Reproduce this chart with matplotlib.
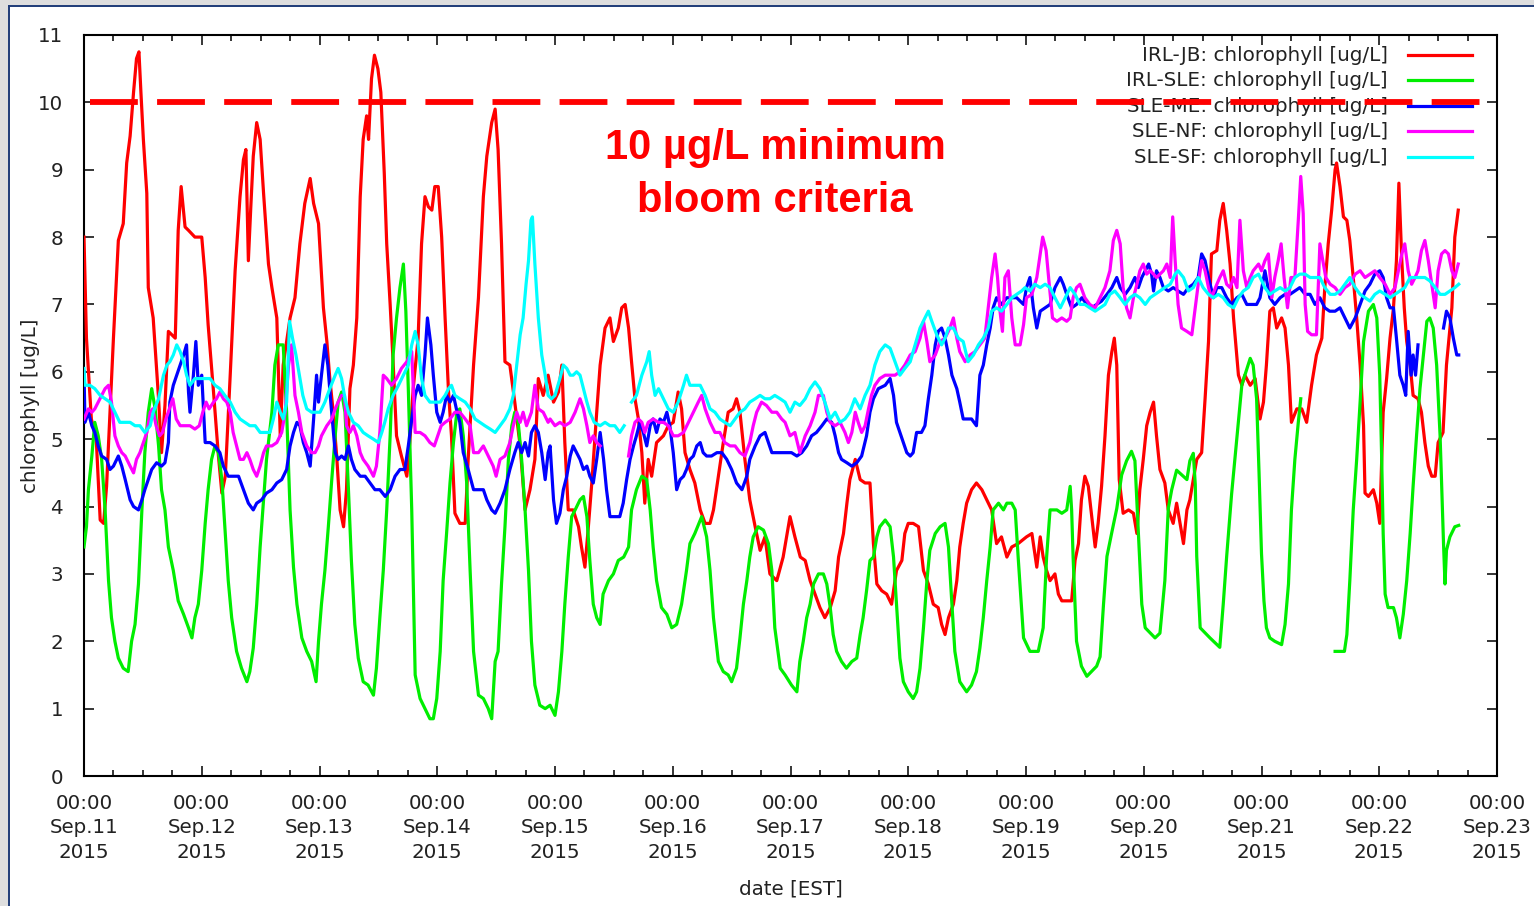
import numpy as np
import matplotlib
matplotlib.use('Agg')
import matplotlib.pyplot as plt
import matplotlib.dates as mdates
from matplotlib.patches import Rectangle
from matplotlib.lines import Line2D

nan = float('nan')

# (hours after 2015-09-11 00:00 EST, chlorophyll ug/L)
irl_jb = [(0, 8.0), (0.5, 6.5), (1.5, 5.3), (2.5, 5.0), (3.3, 3.8), (4.0, 3.75), (4.6, 4.3), (6.0, 6.5), (7.0, 7.95), (8.0, 8.2),
          (8.7, 9.1), (9.4, 9.5), (10.1, 10.15), (10.7, 10.65), (11.2, 10.75), (11.6, 10.15), (12.1, 9.45), (12.8, 8.65), (13.1, 7.25),
          (14.1, 6.8), (15.2, 5.6), (15.8, 4.8), (16.5, 5.5), (17.2, 6.6), (18.6, 6.5), (19.2, 8.1), (19.8, 8.75), (20.6, 8.15), (21.3, 8.1),
          (22.6, 8.0), (24.0, 8.0), (24.7, 7.4), (25.3, 6.7), (26.4, 5.7), (27.4, 4.75), (28.1, 4.2), (28.8, 4.45), (29.8, 5.95), (30.8, 7.5),
          (31.8, 8.6), (32.5, 9.15), (33.0, 9.3), (33.5, 7.65), (34.0, 8.45), (34.5, 9.2), (35.2, 9.7), (35.9, 9.45), (36.6, 8.65), (37.6, 7.6),
          (38.3, 7.25), (39.3, 6.8), (40.0, 5.05), (40.6, 6.1), (42.0, 6.8), (43.0, 7.1), (44.0, 7.9), (45.0, 8.5), (46.1, 8.87), (46.8, 8.5),
          (47.8, 8.2), (48.8, 6.95), (49.5, 6.45), (50.1, 5.9), (50.8, 5.4), (51.5, 4.75), (52.2, 3.95), (52.9, 3.7), (53.5, 4.25), (54.2, 5.75),
          (54.9, 6.1), (55.6, 6.8), (56.3, 8.6), (56.9, 9.45), (57.6, 9.8), (58.0, 9.45), (58.6, 10.35), (59.2, 10.7), (59.9, 10.5), (60.5, 10.15),
          (61.2, 8.95), (61.7, 7.9), (62.4, 7.0), (63.0, 6.15), (63.7, 5.05), (64.7, 4.75), (65.8, 4.45), (66.4, 4.95), (67.1, 5.75), (68.1, 6.5),
          (68.8, 7.9), (69.5, 8.6), (70.2, 8.45), (70.9, 8.4), (71.5, 8.75), (72.2, 8.75), (72.9, 8.0), (73.6, 6.8), (74.3, 5.7), (74.9, 5.05),
          (75.6, 3.9), (76.6, 3.75), (77.7, 3.75), (78.3, 4.7), (79.4, 6.1), (80.4, 7.1), (81.4, 8.6), (82.1, 9.2), (83.1, 9.7), (83.8, 9.9),
          (84.4, 9.3), (85.1, 7.9), (85.8, 6.15), (86.8, 6.1), (87.8, 5.55), (88.9, 4.9), (89.9, 3.95), (90.9, 4.25), (91.9, 4.7), (92.6, 5.9),
          (93.6, 5.65), (94.6, 5.95), (95.7, 5.55), (96.7, 5.7), (97.4, 6.1), (98.0, 4.95), (98.7, 3.95), (99.7, 3.95), (100.8, 3.7), (101.4, 3.4),
          (102.1, 3.1), (102.8, 3.7), (103.5, 4.35), (104.5, 5.4), (105.2, 6.1), (106.2, 6.65), (107.2, 6.8), (107.9, 6.45), (108.9, 6.65),
          (109.6, 6.95), (110.3, 7.0), (111.0, 6.65), (111.6, 6.15), (112.3, 5.6), (113.0, 5.3), (113.7, 4.8), (114.3, 4.05), (115.0, 4.7),
          (115.7, 4.45), (116.7, 4.95), (118.1, 5.05), (119.1, 5.2), (120.1, 5.25), (121.1, 5.7), (121.8, 5.45), (122.5, 4.8), (123.5, 4.55),
          (124.5, 4.35), (125.6, 3.95), (126.6, 3.75), (127.6, 3.75), (128.3, 3.95), (129.3, 4.45), (130.3, 4.95), (131.3, 5.4), (132.3, 5.45),
          (133.0, 5.6), (133.7, 5.4), (134.7, 4.7), (135.7, 4.1), (136.8, 3.7), (137.8, 3.35), (138.8, 3.55), (139.8, 3.0), (141.2, 2.9),
          (142.5, 3.25), (143.9, 3.85), (144.9, 3.55), (146.0, 3.25), (147.0, 3.2), (148.0, 2.9), (149.0, 2.7), (150.0, 2.5), (151.0, 2.35),
          (152.1, 2.5), (153.1, 2.75), (153.8, 3.25), (154.8, 3.6), (155.5, 4.05), (156.1, 4.4), (157.2, 4.7), (158.2, 4.4), (159.2, 4.35),
          (160.2, 4.35), (160.9, 3.45), (161.6, 2.85), (162.6, 2.75), (163.6, 2.7), (164.6, 2.55), (165.6, 3.05), (166.7, 3.2), (167.3, 3.6),
          (168.0, 3.75), (169.0, 3.75), (170.1, 3.7), (171.1, 3.05), (172.1, 2.85), (173.1, 2.55), (174.1, 2.5), (174.8, 2.25), (175.5, 2.1),
          (176.2, 2.35), (177.2, 2.55), (177.9, 2.9), (178.5, 3.4), (179.2, 3.75), (179.9, 4.05), (180.9, 4.25), (181.9, 4.35), (183.0, 4.25),
          (184.0, 4.1), (185.0, 3.95), (186.0, 3.45), (187.0, 3.55), (188.1, 3.25), (189.1, 3.4), (190.4, 3.45), (192.1, 3.55), (193.2, 3.6),
          (194.2, 3.1), (194.9, 3.55), (195.5, 3.25), (196.2, 3.05), (196.9, 2.9), (197.9, 3.0), (198.6, 2.7), (199.3, 2.6), (200.3, 2.6),
          (201.3, 2.6), (202.0, 3.2), (202.7, 3.45), (203.3, 4.1), (204.0, 4.45), (204.7, 4.3), (205.4, 3.85), (206.1, 3.4), (206.7, 3.75),
          (207.4, 4.3), (208.1, 5.05), (208.8, 5.95), (209.5, 6.3), (210.0, 6.5), (210.5, 6.1), (211.0, 4.4), (211.8, 3.9), (212.9, 3.95),
          (213.9, 3.9), (214.6, 3.6), (215.2, 4.25), (215.9, 4.7), (216.6, 5.2), (217.3, 5.4), (218.0, 5.55), (218.6, 5.05), (219.3, 4.55),
          (220.3, 4.35), (221.0, 3.95), (222.0, 3.75), (222.7, 4.05), (223.4, 3.75), (224.1, 3.45), (224.8, 3.95), (225.4, 4.1), (226.1, 4.4),
          (226.8, 4.7), (227.8, 4.8), (228.5, 5.6), (229.2, 6.45), (229.8, 7.75), (230.9, 7.8), (231.5, 8.25), (232.2, 8.5), (232.9, 8.1),
          (233.6, 7.6), (234.3, 6.8), (235.3, 5.95), (236.0, 5.8), (236.6, 5.95), (237.7, 5.8), (238.7, 5.9), (239.7, 5.3), (240.4, 5.55),
          (241.0, 6.1), (241.7, 6.9), (242.4, 6.95), (243.1, 6.65), (244.1, 6.8), (244.8, 6.65), (245.5, 6.1), (246.1, 5.25), (247.2, 5.45),
          (248.2, 5.45), (249.2, 5.25), (250.2, 5.8), (251.2, 6.25), (252.3, 6.5), (252.9, 7.25), (253.6, 7.9), (254.3, 8.4), (255.0, 9.0),
          (255.3, 9.1), (256.0, 8.75), (256.7, 8.3), (257.4, 8.25), (258.0, 7.95), (258.7, 7.4), (259.4, 6.8), (260.1, 6.1), (260.8, 5.2),
          (261.1, 4.2), (261.8, 4.15), (262.8, 4.25), (263.5, 4.05), (264.1, 3.75), (264.8, 5.4), (265.5, 5.9), (266.2, 6.5), (266.9, 6.95),
          (267.5, 7.65), (268.0, 8.8), (268.6, 7.65), (269.1, 6.95), (269.6, 6.45), (270.3, 6.1), (270.9, 5.65), (271.9, 5.6), (272.6, 5.4),
          (273.3, 4.95), (274.0, 4.6), (274.7, 4.45), (275.4, 4.45), (276.0, 4.95), (277.0, 5.1), (277.7, 6.1), (278.8, 6.95), (279.4, 8.0),
          (280.1, 8.4)]

irl_sle = [(0, 3.4), (0.5, 3.7), (0.9, 4.25), (1.6, 4.75), (2.2, 5.25), (2.9, 5.05), (3.6, 4.7), (4.3, 3.95), (5.0, 2.9), (5.6, 2.35),
           (6.3, 2.0), (7.0, 1.75), (8.0, 1.6), (9.0, 1.55), (9.7, 2.0), (10.4, 2.25), (11.1, 2.85), (11.8, 3.95), (12.4, 4.8), (13.1, 5.4),
           (13.8, 5.75), (14.5, 5.45), (15.2, 4.9), (15.8, 4.25), (16.5, 3.95), (17.2, 3.4), (18.2, 3.05), (19.2, 2.6), (20.3, 2.4), (21.3, 2.2),
           (22.0, 2.05), (22.6, 2.35), (23.3, 2.55), (24.0, 3.05), (24.7, 3.75), (25.3, 4.25), (26.0, 4.7), (26.7, 4.9), (27.4, 4.8), (28.1, 4.4),
           (28.7, 3.7), (29.4, 2.9), (30.1, 2.35), (31.1, 1.85), (32.1, 1.6), (33.2, 1.4), (33.8, 1.55), (34.5, 1.9), (35.2, 2.55), (35.9, 3.4),
           (36.6, 4.1), (37.2, 4.7), (38.3, 5.4), (38.9, 6.1), (39.6, 6.4), (40.6, 6.4), (41.3, 5.4), (42.0, 3.95), (42.7, 3.1), (43.4, 2.55),
           (44.4, 2.05), (45.4, 1.85), (46.4, 1.7), (47.3, 1.4), (47.8, 2.0), (48.4, 2.55), (49.1, 3.05), (49.8, 3.7), (50.5, 4.4), (51.2, 5.05),
           (51.8, 5.55), (52.5, 5.7), (53.2, 5.4), (53.9, 4.25), (54.5, 3.2), (55.2, 2.25), (55.9, 1.75), (56.9, 1.4), (57.9, 1.35), (59.0, 1.2),
           (59.6, 1.6), (60.3, 2.35), (61.0, 3.05), (61.7, 3.95), (62.4, 5.05), (63.0, 6.25), (63.7, 6.8), (64.4, 7.25), (65.1, 7.6), (65.6, 6.9),
           (66.1, 5.75), (66.8, 3.95), (67.5, 1.5), (68.5, 1.15), (69.5, 1.0), (70.5, 0.85), (71.2, 0.85), (71.9, 1.15), (72.6, 1.85), (73.2, 2.9),
           (73.9, 3.6), (74.6, 4.35), (75.3, 4.95), (76.0, 5.4), (76.6, 5.45), (77.3, 5.05), (78.0, 4.35), (78.7, 3.05), (79.4, 1.85), (80.4, 1.2),
           (81.4, 1.15), (82.4, 1.0), (83.1, 0.85), (83.8, 1.7), (84.4, 1.85), (85.1, 2.85), (85.8, 3.7), (86.5, 4.7), (87.2, 5.2), (87.8, 5.4),
           (88.5, 5.25), (89.2, 4.7), (89.9, 3.95), (90.6, 3.05), (91.2, 2.0), (91.9, 1.35), (92.9, 1.05), (94.0, 1.0), (95.0, 1.05), (96.0, 0.9),
           (96.7, 1.25), (97.4, 1.85), (98.0, 2.55), (98.7, 3.25), (99.4, 3.85), (100.1, 3.95), (101.1, 4.1), (101.8, 4.15), (102.5, 3.85),
           (103.1, 3.2), (103.8, 2.55), (104.5, 2.35), (105.2, 2.25), (105.8, 2.7), (106.9, 2.9), (107.9, 3.0), (108.9, 3.2), (110.0, 3.25),
           (111.0, 3.4), (111.6, 3.95), (112.6, 4.25), (113.7, 4.45), (114.7, 4.4), (115.4, 3.95), (116.0, 3.4), (116.7, 2.9), (117.7, 2.5),
           (118.8, 2.4), (119.8, 2.2), (120.8, 2.25), (121.8, 2.55), (122.8, 3.05), (123.5, 3.45), (124.5, 3.6), (125.9, 3.85), (126.9, 3.55),
           (127.6, 3.05), (128.3, 2.35), (129.3, 1.7), (130.3, 1.55), (131.3, 1.5), (132.0, 1.4), (133.0, 1.6), (133.7, 2.05), (134.4, 2.55),
           (135.1, 2.9), (135.7, 3.25), (136.4, 3.55), (137.4, 3.7), (138.5, 3.65), (139.5, 3.45), (140.2, 3.05), (140.8, 2.2), (141.9, 1.6),
           (142.9, 1.5), (144.2, 1.35), (145.3, 1.25), (145.9, 1.7), (146.6, 2.0), (147.3, 2.35), (148.0, 2.55), (148.7, 2.85), (149.7, 3.0),
           (150.7, 3.0), (151.4, 2.85), (152.1, 2.5), (152.7, 2.1), (153.4, 1.85), (154.4, 1.7), (155.4, 1.6), (156.5, 1.7), (157.5, 1.75),
           (158.2, 2.1), (158.8, 2.35), (159.5, 2.75), (160.2, 3.2), (160.9, 3.25), (161.6, 3.55), (162.2, 3.7), (163.3, 3.8), (164.3, 3.7),
           (165.0, 3.25), (165.6, 2.55), (166.3, 1.75), (167.0, 1.4), (168.0, 1.25), (169.0, 1.15), (169.7, 1.25), (170.4, 1.6), (171.1, 2.2),
           (171.8, 2.9), (172.4, 3.35), (173.5, 3.6), (174.5, 3.7), (175.5, 3.75), (176.2, 3.4), (176.9, 2.55), (177.5, 1.85), (178.5, 1.4),
           (179.9, 1.25), (180.9, 1.35), (181.9, 1.55), (182.6, 1.9), (183.3, 2.35), (184.0, 2.9), (184.7, 3.4), (185.3, 3.95), (186.4, 4.05),
           (187.4, 3.95), (188.1, 4.05), (189.1, 4.05), (189.8, 3.95), (190.4, 3.25), (191.5, 2.05), (192.8, 1.85), (194.5, 1.85), (195.5, 2.2),
           (196.2, 3.25), (196.9, 3.95), (198.3, 3.95), (199.3, 3.9), (200.3, 3.95), (201.0, 4.3), (201.3, 3.95), (201.6, 3.25), (202.3, 2.0),
           (203.3, 1.63), (204.4, 1.48), (206.4, 1.63), (207.1, 1.77), (207.8, 2.55), (208.5, 3.26), (209.5, 3.62), (210.5, 3.97), (211.5, 4.47),
           (212.5, 4.68), (213.5, 4.82), (214.2, 4.68), (214.9, 3.62), (215.6, 2.55), (216.3, 2.2), (218.3, 2.05), (219.3, 2.12), (220.3, 2.9),
           (221.0, 3.97), (221.7, 4.25), (222.7, 4.54), (224.8, 4.4), (225.4, 4.68), (226.1, 4.79), (226.5, 4.33), (226.8, 3.26), (227.5, 2.2),
           (229.5, 2.05), (231.5, 1.91), (232.2, 2.55), (232.9, 3.26), (233.9, 4.18), (235.0, 5.04), (236.0, 5.81), (237.7, 6.2), (238.3, 6.1),
           (239.0, 5.6), (239.5, 4.5), (240.0, 3.3), (240.5, 2.6), (241.0, 2.2), (241.7, 2.05), (242.7, 2.0), (244.1, 1.95), (244.8, 2.25),
           (245.5, 2.85), (246.1, 3.95), (246.8, 4.7), (247.5, 5.25), (248.0, 5.6), (251.0, nan), (255.0, 1.85), (256.9, 1.85), (257.4, 2.1),
           (258.0, 2.9), (258.7, 3.95), (259.4, 4.7), (260.1, 5.55), (260.8, 6.45), (261.8, 6.9), (262.8, 7.0), (263.5, 6.8), (264.1, 5.95),
           (264.5, 4.7), (264.8, 3.6), (265.2, 2.7), (265.8, 2.5), (266.9, 2.5), (267.5, 2.35), (268.2, 2.05), (268.9, 2.4), (269.6, 2.9),
           (270.3, 3.6), (270.9, 4.3), (271.6, 5.05), (272.3, 5.75), (273.0, 6.25), (273.7, 6.75), (274.3, 6.8), (275.0, 6.65), (275.7, 6.1),
           (276.4, 5.05), (277.1, 3.45), (277.4, 2.85), (277.7, 3.35), (278.4, 3.55), (279.4, 3.7), (280.2, 3.72)]

sle_me = [(0, 6.0), (0.2, 5.25), (0.9, 5.4), (1.6, 5.2), (2.2, 5.1), (2.9, 4.9), (3.6, 4.75), (4.6, 4.7), (5.3, 4.55), (6.0, 4.6),
          (7.0, 4.75), (7.7, 4.6), (8.4, 4.4), (9.4, 4.1), (10.1, 4.0), (11.1, 3.95), (11.8, 4.1), (12.4, 4.25), (13.1, 4.4), (13.8, 4.55),
          (14.8, 4.65), (15.8, 4.6), (16.5, 4.65), (17.2, 4.95), (17.5, 5.55), (18.2, 5.8), (18.9, 5.95), (19.6, 6.1), (20.3, 6.25), (20.9, 6.4),
          (21.3, 5.7), (21.6, 5.4), (22.3, 5.95), (22.8, 6.45), (23.3, 5.8), (24.0, 5.95), (24.7, 4.95), (25.7, 4.95), (26.7, 4.9), (27.7, 4.8),
          (28.4, 4.6), (29.4, 4.45), (30.4, 4.45), (31.5, 4.45), (32.5, 4.25), (33.5, 4.05), (34.5, 3.95), (35.2, 4.05), (36.2, 4.1), (37.2, 4.2),
          (38.3, 4.25), (39.3, 4.35), (40.3, 4.4), (41.3, 4.55), (42.0, 4.9), (42.7, 5.1), (43.4, 5.25), (44.0, 5.2), (44.7, 4.95), (45.4, 4.8),
          (46.1, 4.6), (46.8, 5.3), (47.4, 5.95), (47.8, 5.55), (48.4, 5.95), (49.1, 6.4), (49.7, 6.1), (50.3, 5.55), (51.2, 4.8), (51.8, 4.7),
          (52.5, 4.75), (53.2, 4.7), (53.9, 4.9), (54.5, 4.7), (55.2, 4.55), (56.3, 4.45), (57.3, 4.45), (58.3, 4.35), (59.3, 4.25), (60.3, 4.25),
          (61.4, 4.15), (62.4, 4.25), (63.4, 4.45), (64.4, 4.55), (65.4, 4.55), (66.1, 4.9), (66.8, 5.3), (67.5, 5.65), (68.1, 5.8), (68.8, 5.65),
          (69.5, 6.25), (70.0, 6.8), (70.7, 6.4), (71.2, 5.95), (71.9, 5.4), (72.6, 5.25), (73.2, 5.4), (73.9, 5.65), (74.6, 5.55), (75.3, 5.65),
          (75.9, 5.45), (76.6, 5.25), (77.3, 4.8), (78.3, 4.55), (79.4, 4.25), (80.4, 4.25), (81.4, 4.25), (82.1, 4.1), (83.1, 3.95), (83.8, 3.9),
          (84.8, 4.05), (85.8, 4.25), (86.8, 4.55), (87.8, 4.8), (88.5, 4.95), (89.2, 4.8), (89.9, 4.95), (90.6, 4.75), (91.2, 5.1), (91.9, 5.2),
          (92.6, 5.1), (93.3, 4.8), (94.0, 4.4), (94.6, 4.8), (95.0, 4.9), (95.7, 4.1), (96.3, 3.75), (97.0, 3.9), (97.7, 4.25), (98.4, 4.45),
          (99.1, 4.75), (99.7, 4.9), (100.4, 4.8), (101.1, 4.7), (101.8, 4.55), (102.5, 4.6), (103.1, 4.45), (103.8, 4.35), (104.5, 4.7),
          (105.2, 5.1), (105.9, 4.7), (106.5, 4.25), (107.2, 3.85), (108.2, 3.85), (109.2, 3.85), (109.9, 4.05), (110.6, 4.4), (111.3, 4.7),
          (112.0, 4.9), (112.6, 5.05), (113.3, 5.25), (114.0, 5.1), (114.7, 4.9), (115.4, 5.2), (116.0, 5.3), (116.7, 5.1), (117.4, 5.3),
          (118.1, 5.25), (118.8, 5.4), (119.4, 5.2), (120.1, 4.8), (120.8, 4.25), (121.5, 4.4), (122.2, 4.45), (122.8, 4.55), (123.5, 4.7),
          (124.2, 4.75), (124.9, 4.9), (125.6, 4.95), (126.2, 4.8), (126.9, 4.75), (127.9, 4.75), (129.0, 4.8), (130.0, 4.8), (131.0, 4.7),
          (132.0, 4.55), (133.0, 4.35), (134.1, 4.25), (135.1, 4.45), (135.7, 4.7), (136.8, 4.9), (137.8, 5.05), (138.8, 5.1), (139.5, 4.95),
          (140.2, 4.8), (141.2, 4.8), (142.5, 4.8), (144.2, 4.8), (145.3, 4.75), (146.3, 4.8), (147.3, 4.9), (148.3, 5.05), (149.3, 5.1),
          (150.4, 5.2), (151.4, 5.3), (152.4, 5.25), (153.1, 5.05), (153.8, 4.8), (154.4, 4.7), (155.5, 4.65), (156.5, 4.6), (157.5, 4.65),
          (158.5, 4.75), (159.5, 5.05), (160.2, 5.4), (160.9, 5.6), (161.9, 5.75), (163.3, 5.8), (164.3, 5.9), (165.0, 5.65), (165.6, 5.25),
          (166.3, 5.1), (167.0, 4.95), (167.7, 4.8), (168.4, 4.75), (169.0, 4.8), (169.7, 5.1), (170.7, 5.1), (171.4, 5.2), (172.1, 5.6),
          (172.8, 5.95), (173.5, 6.4), (174.1, 6.6), (174.8, 6.65), (175.5, 6.5), (176.2, 6.25), (176.9, 5.95), (177.9, 5.75), (178.5, 5.55),
          (179.2, 5.3), (179.9, 5.3), (180.9, 5.3), (181.9, 5.2), (182.6, 5.95), (183.3, 6.1), (184.0, 6.4), (184.7, 6.65), (185.3, 6.95),
          (186.0, 7.1), (187.0, 7.0), (188.1, 7.1), (189.1, 7.1), (190.1, 7.1), (191.5, 7.0), (192.1, 7.25), (192.8, 7.4), (193.5, 6.95),
          (194.2, 6.65), (194.9, 6.9), (195.9, 6.95), (196.9, 7.0), (197.9, 7.25), (199.0, 7.4), (199.6, 7.3), (200.3, 7.15), (201.3, 6.95),
          (202.3, 7.0), (203.4, 7.1), (204.4, 7.0), (205.4, 6.95), (206.4, 7.0), (207.4, 7.05), (208.5, 7.15), (209.5, 7.25), (210.5, 7.4),
          (211.2, 7.25), (212.2, 7.15), (213.2, 7.25), (214.2, 7.4), (214.9, 7.25), (215.6, 7.4), (216.3, 7.5), (217.0, 7.6), (217.6, 7.45),
          (218.0, 7.2), (218.6, 7.5), (219.3, 7.4), (220.0, 7.25), (221.0, 7.2), (222.0, 7.25), (223.0, 7.2), (224.1, 7.15), (225.1, 7.25),
          (226.1, 7.3), (227.1, 7.4), (227.8, 7.75), (228.5, 7.65), (229.2, 7.4), (230.2, 7.1), (230.9, 7.25), (231.9, 7.25), (232.9, 7.1),
          (233.9, 7.0), (235.0, 7.1), (236.0, 7.15), (237.0, 7.0), (238.0, 7.0), (239.0, 7.0), (239.7, 7.1), (240.7, 7.5), (241.7, 7.1),
          (242.7, 7.0), (243.8, 7.1), (244.8, 7.15), (245.8, 7.15), (246.8, 7.2), (247.8, 7.25), (248.9, 7.15), (249.9, 7.15), (250.9, 7.0),
          (251.9, 7.1), (252.9, 6.95), (253.9, 6.9), (255.0, 6.9), (256.0, 6.95), (257.0, 6.8), (258.0, 6.65), (259.1, 6.8), (260.1, 7.0),
          (261.1, 7.2), (262.1, 7.3), (263.1, 7.45), (264.1, 7.5), (264.8, 7.4), (265.5, 7.1), (266.2, 6.95), (266.9, 6.95), (267.5, 6.5),
          (268.2, 5.95), (268.9, 5.8), (269.4, 5.65), (269.9, 6.6), (270.5, 5.95), (270.9, 6.25), (271.4, 5.95), (271.9, 6.4), (274.5, nan),
          (277.1, 6.65), (277.7, 6.9), (278.4, 6.8), (279.1, 6.5), (279.8, 6.25), (280.2, 6.25)]

sle_nf = [(0, 5.3), (0.9, 5.45), (1.6, 5.4), (2.2, 5.45), (2.9, 5.55), (3.6, 5.65), (4.3, 5.75), (5.0, 5.8), (5.6, 5.55), (6.3, 5.05),
          (7.0, 4.9), (7.7, 4.8), (8.4, 4.75), (9.4, 4.6), (10.1, 4.5), (10.7, 4.7), (11.4, 4.8), (12.1, 4.95), (12.8, 5.1), (13.5, 5.4),
          (14.0, 5.45), (14.7, 5.2), (15.4, 5.05), (16.0, 5.1), (16.7, 5.3), (17.4, 5.45), (18.1, 5.6), (18.8, 5.3), (19.6, 5.2), (20.6, 5.2),
          (21.6, 5.2), (22.6, 5.15), (23.5, 5.2), (24.2, 5.4), (24.9, 5.55), (25.5, 5.45), (26.4, 5.55), (27.0, 5.6), (27.7, 5.7), (28.4, 5.6),
          (29.1, 5.55), (29.8, 5.4), (30.4, 5.1), (31.1, 4.9), (31.8, 4.7), (32.5, 4.7), (33.2, 4.8), (33.8, 4.7), (34.5, 4.55), (35.2, 4.45),
          (35.9, 4.6), (36.6, 4.8), (37.2, 4.9), (38.3, 4.9), (39.3, 4.95), (40.3, 5.1), (41.0, 5.4), (41.7, 6.1), (42.3, 6.4), (43.0, 5.65),
          (43.7, 5.4), (44.4, 5.1), (45.4, 4.9), (46.4, 4.8), (47.1, 4.8), (47.8, 4.9), (48.4, 5.05), (49.5, 5.2), (50.5, 5.3), (51.2, 5.45),
          (51.8, 5.55), (52.5, 5.65), (53.1, 5.65), (53.5, 5.2), (54.2, 5.1), (54.9, 5.2), (55.6, 5.05), (56.3, 4.8), (56.9, 4.7), (57.9, 4.6),
          (59.0, 4.45), (59.6, 4.6), (60.3, 5.1), (61.0, 5.95), (61.7, 5.9), (62.7, 5.8), (63.7, 5.9), (64.7, 6.05), (65.8, 6.15), (66.8, 6.3),
          (67.5, 5.1), (68.5, 5.1), (69.5, 5.05), (70.5, 4.95), (71.4, 4.9), (72.1, 5.05), (72.8, 5.2), (73.6, 5.25), (74.6, 5.3), (75.6, 5.4),
          (76.6, 5.4), (77.7, 5.3), (78.7, 5.2), (79.4, 4.8), (80.4, 4.8), (81.4, 4.9), (82.4, 4.75), (83.4, 4.6), (84.0, 4.45), (84.8, 4.7),
          (85.8, 4.75), (86.8, 4.95), (87.5, 5.2), (88.2, 5.4), (88.9, 5.25), (89.5, 5.4), (90.2, 5.2), (91.2, 5.4), (91.9, 5.8), (92.6, 5.45),
          (93.6, 5.4), (94.6, 5.25), (95.0, 5.3), (96.0, 5.2), (97.0, 5.25), (98.0, 5.2), (99.1, 5.25), (100.1, 5.4), (101.1, 5.6),
          (101.8, 5.45), (102.5, 5.2), (103.1, 4.95), (103.8, 5.05), (104.5, 4.95), (105.2, 4.9), (108.0, nan), (111.0, 4.75), (111.6, 5.05),
          (112.3, 5.25), (113.0, 5.3), (113.7, 5.25), (114.3, 5.1), (115.0, 5.25), (116.0, 5.3), (117.1, 5.25), (118.1, 5.25), (119.1, 5.2),
          (120.1, 5.05), (121.1, 5.05), (122.2, 5.1), (123.2, 5.25), (124.2, 5.4), (125.2, 5.55), (125.9, 5.65), (126.6, 5.45), (127.6, 5.25),
          (128.6, 5.1), (129.6, 5.1), (130.6, 4.95), (131.7, 4.9), (132.7, 4.9), (133.7, 4.8), (134.7, 4.75), (135.7, 4.95), (136.4, 5.2),
          (137.1, 5.4), (138.1, 5.55), (139.1, 5.5), (140.2, 5.4), (141.2, 5.4), (142.2, 5.3), (142.9, 5.25), (143.9, 5.05), (144.9, 5.1),
          (145.9, 4.8), (147.0, 5.05), (148.0, 5.2), (149.0, 5.4), (149.7, 5.65), (150.7, 5.65), (151.4, 5.4), (152.1, 5.25), (153.1, 5.2),
          (154.1, 5.25), (155.1, 5.1), (155.8, 4.95), (156.5, 5.1), (157.2, 5.4), (157.8, 5.25), (158.5, 5.1), (159.2, 5.2), (159.9, 5.45),
          (160.5, 5.65), (161.2, 5.8), (162.2, 5.9), (163.3, 5.95), (164.3, 5.95), (165.3, 5.95), (166.3, 6.0), (167.3, 6.1), (168.4, 6.25),
          (169.4, 6.3), (170.4, 6.5), (171.1, 6.75), (171.8, 6.45), (172.4, 6.15), (173.5, 6.25), (174.5, 6.45), (175.5, 6.5), (176.5, 6.65),
          (177.2, 6.8), (177.9, 6.5), (178.5, 6.3), (179.6, 6.15), (180.6, 6.25), (181.6, 6.3), (182.6, 6.4), (183.6, 6.5), (184.3, 6.95),
          (185.0, 7.4), (185.7, 7.75), (186.2, 7.4), (186.7, 6.9), (187.2, 6.6), (187.7, 7.4), (188.4, 7.5), (189.1, 6.8), (189.8, 6.4),
          (190.8, 6.4), (191.5, 6.7), (192.1, 7.1), (193.2, 7.15), (194.2, 7.4), (194.9, 7.75), (195.4, 8.0), (196.1, 7.8), (196.8, 7.25),
          (197.4, 6.8), (198.3, 6.75), (199.3, 6.8), (200.3, 6.75), (201.0, 6.8), (201.6, 7.1), (202.3, 7.25), (203.0, 7.3), (204.0, 7.1),
          (205.0, 7.0), (206.1, 6.95), (207.1, 7.1), (208.1, 7.25), (209.1, 7.5), (209.8, 7.95), (210.5, 8.1), (211.2, 7.9), (211.8, 7.25),
          (212.5, 6.95), (213.2, 6.8), (213.9, 7.1), (214.6, 7.3), (215.2, 7.5), (215.9, 7.6), (216.6, 7.45), (217.3, 7.5), (218.0, 7.45),
          (218.6, 7.4), (219.3, 7.45), (220.0, 7.5), (220.7, 7.6), (221.4, 7.4), (221.9, 8.3), (222.4, 7.65), (223.0, 7.0), (223.7, 6.65),
          (224.8, 6.6), (225.8, 6.55), (226.5, 6.95), (227.1, 7.3), (227.8, 7.65), (228.5, 7.5), (229.2, 7.25), (229.8, 7.1), (230.9, 7.3),
          (231.5, 7.4), (232.2, 7.5), (232.9, 7.3), (233.6, 7.25), (234.3, 7.4), (235.0, 7.25), (235.6, 8.25), (236.3, 7.5), (237.0, 7.25),
          (237.7, 7.4), (238.3, 7.5), (239.4, 7.6), (240.0, 7.5), (240.7, 7.65), (241.4, 7.75), (242.1, 7.1), (242.7, 7.4), (243.4, 7.65),
          (244.0, 7.9), (244.6, 7.4), (245.3, 6.95), (246.0, 7.4), (246.8, 7.4), (247.5, 8.25), (248.0, 8.9), (248.5, 8.35), (248.9, 7.0),
          (249.4, 6.6), (250.2, 6.55), (251.2, 6.55), (251.9, 7.9), (252.5, 7.65), (253.1, 7.4), (254.0, 7.3), (255.0, 7.25), (256.0, 7.15),
          (257.0, 7.25), (258.0, 7.3), (259.1, 7.45), (260.1, 7.5), (261.1, 7.4), (262.1, 7.45), (263.1, 7.5), (264.1, 7.4), (265.2, 7.3),
          (266.2, 7.15), (267.2, 7.25), (267.9, 7.5), (268.6, 7.75), (269.2, 7.9), (269.9, 7.5), (270.6, 7.3), (271.3, 7.4), (271.9, 7.5),
          (272.6, 7.8), (273.3, 7.95), (274.0, 7.65), (274.7, 7.3), (275.4, 6.95), (276.0, 7.5), (276.7, 7.75), (277.4, 7.8), (278.1, 7.75),
          (278.8, 7.5), (279.4, 7.4), (280.1, 7.6)]

sle_sf = [(0, 6.05), (0.2, 5.8), (1.2, 5.8), (2.2, 5.75), (3.3, 5.65), (4.3, 5.6), (5.3, 5.55), (6.3, 5.4), (7.3, 5.25), (8.4, 5.25),
          (9.4, 5.25), (10.4, 5.2), (11.4, 5.2), (12.4, 5.1), (13.5, 5.2), (14.1, 5.4), (15.2, 5.6), (16.2, 5.95), (16.9, 6.1), (17.5, 6.15),
          (18.2, 6.25), (18.9, 6.4), (19.6, 6.3), (20.3, 6.15), (20.9, 5.95), (21.6, 5.8), (22.6, 5.9), (23.6, 5.9), (24.7, 5.9), (25.7, 5.9),
          (26.7, 5.8), (27.7, 5.75), (28.7, 5.65), (29.8, 5.55), (30.8, 5.4), (31.8, 5.3), (32.8, 5.25), (33.8, 5.2), (34.9, 5.2), (35.9, 5.1),
          (36.9, 5.1), (37.9, 5.1), (38.6, 5.3), (39.3, 5.55), (40.0, 5.4), (40.6, 5.3), (41.3, 5.55), (41.9, 6.75), (42.5, 6.5), (43.2, 6.25),
          (43.9, 5.95), (44.6, 5.65), (45.4, 5.45), (46.4, 5.4), (47.1, 5.4), (48.1, 5.4), (49.1, 5.55), (50.1, 5.75), (51.2, 5.95), (51.8, 6.05),
          (52.5, 5.9), (53.2, 5.6), (53.9, 5.4), (54.9, 5.25), (55.9, 5.2), (56.9, 5.1), (57.9, 5.05), (59.0, 5.0), (60.0, 4.95), (60.7, 5.1),
          (61.3, 5.25), (62.0, 5.45), (63.0, 5.65), (64.1, 5.8), (65.1, 5.95), (66.1, 6.1), (66.8, 6.4), (67.5, 6.6), (68.1, 6.4), (68.8, 5.9),
          (69.5, 5.65), (70.5, 5.55), (71.5, 5.55), (72.6, 5.55), (73.6, 5.65), (74.3, 5.75), (74.9, 5.8), (75.6, 5.65), (76.6, 5.6),
          (77.7, 5.55), (78.7, 5.45), (79.7, 5.3), (80.7, 5.25), (81.7, 5.2), (82.8, 5.15), (83.8, 5.1), (84.8, 5.2), (85.8, 5.3), (86.8, 5.45),
          (87.5, 5.65), (88.2, 6.1), (88.9, 6.55), (89.5, 6.8), (90.1, 7.3), (90.6, 7.65), (91.1, 8.25), (91.4, 8.3), (91.9, 7.6), (92.6, 6.8),
          (93.3, 6.25), (94.0, 5.95), (94.6, 5.65), (95.3, 5.6), (96.0, 5.65), (97.0, 5.9), (97.7, 6.1), (98.4, 6.05), (99.1, 5.95),
          (99.7, 5.95), (100.4, 6.0), (101.1, 5.95), (101.8, 5.75), (102.5, 5.55), (103.1, 5.4), (104.0, 5.25), (105.2, 5.2), (106.2, 5.25),
          (107.2, 5.2), (108.2, 5.2), (109.2, 5.1), (110.1, 5.2), (110.8, nan), (111.6, 5.55), (112.6, 5.65), (113.7, 5.95), (114.7, 6.15),
          (115.2, 6.3), (115.7, 5.95), (116.4, 5.65), (117.1, 5.75), (118.1, 5.6), (119.1, 5.45), (120.1, 5.4), (121.1, 5.55), (122.2, 5.8),
          (122.8, 5.95), (123.5, 5.8), (124.5, 5.8), (125.6, 5.8), (126.6, 5.65), (127.6, 5.45), (128.6, 5.4), (129.6, 5.3), (130.6, 5.25),
          (131.7, 5.2), (132.7, 5.3), (133.7, 5.4), (134.7, 5.45), (135.7, 5.55), (136.8, 5.6), (137.8, 5.65), (138.8, 5.6), (139.8, 5.6),
          (140.8, 5.65), (141.9, 5.6), (142.9, 5.55), (143.9, 5.4), (144.9, 5.55), (145.9, 5.5), (147.0, 5.6), (148.0, 5.75), (149.0, 5.85),
          (150.0, 5.75), (151.0, 5.55), (152.1, 5.3), (153.1, 5.4), (154.1, 5.25), (155.1, 5.3), (156.1, 5.4), (157.1, 5.6), (158.2, 5.45),
          (159.2, 5.65), (160.2, 5.8), (161.2, 6.1), (162.2, 6.3), (163.3, 6.4), (164.3, 6.35), (165.3, 6.15), (166.3, 5.95), (167.3, 6.05),
          (168.4, 6.15), (169.4, 6.4), (170.4, 6.65), (171.4, 6.8), (172.1, 6.9), (172.8, 6.75), (173.8, 6.55), (174.8, 6.4), (175.5, 6.5),
          (176.2, 6.65), (177.2, 6.65), (178.2, 6.5), (179.2, 6.45), (180.2, 6.15), (181.3, 6.25), (182.3, 6.4), (183.3, 6.5), (184.3, 6.65),
          (185.0, 6.9), (186.0, 6.95), (187.0, 6.9), (188.1, 7.0), (189.1, 7.1), (190.1, 7.15), (191.1, 7.2), (191.8, 7.25), (192.8, 7.2),
          (193.8, 7.3), (194.9, 7.25), (195.9, 7.3), (196.9, 7.25), (197.9, 7.1), (199.0, 6.95), (200.0, 7.1), (201.0, 7.25), (202.0, 7.15),
          (203.0, 7.0), (204.0, 7.0), (205.0, 6.95), (206.1, 6.9), (207.1, 6.95), (208.1, 7.0), (209.1, 7.15), (210.1, 7.2), (211.2, 7.1),
          (212.2, 7.0), (213.2, 7.1), (214.2, 7.15), (215.2, 7.1), (216.3, 7.0), (217.3, 7.1), (218.3, 7.15), (219.3, 7.2), (220.3, 7.25),
          (221.4, 7.3), (222.4, 7.45), (223.0, 7.5), (224.1, 7.4), (225.1, 7.2), (226.1, 7.25), (227.1, 7.4), (228.1, 7.25), (229.2, 7.15),
          (230.2, 7.1), (231.2, 7.15), (232.2, 7.1), (233.2, 7.0), (234.3, 6.95), (235.3, 7.1), (236.3, 7.2), (237.3, 7.25), (238.3, 7.4),
          (239.4, 7.45), (240.7, 7.25), (241.7, 7.15), (242.7, 7.2), (243.8, 7.25), (244.8, 7.2), (245.8, 7.25), (246.8, 7.4), (247.8, 7.45),
          (248.9, 7.45), (249.9, 7.4), (250.9, 7.4), (251.9, 7.4), (252.9, 7.25), (254.0, 7.15), (255.0, 7.15), (256.0, 7.2), (257.0, 7.3),
          (258.0, 7.4), (259.1, 7.25), (260.1, 7.15), (261.1, 7.1), (262.1, 7.05), (263.1, 7.15), (264.1, 7.2), (265.2, 7.15), (266.2, 7.1),
          (267.2, 7.15), (268.2, 7.2), (269.2, 7.25), (270.3, 7.4), (271.3, 7.4), (272.3, 7.4), (273.3, 7.4), (274.3, 7.35), (275.4, 7.25),
          (276.4, 7.15), (277.4, 7.15), (278.4, 7.2), (279.4, 7.25), (280.2, 7.3)]

series_labels = ['IRL-JB: chlorophyll [ug/L]', 'IRL-SLE: chlorophyll [ug/L]', 'SLE-ME: chlorophyll [ug/L]',
                 'SLE-NF: chlorophyll [ug/L]', 'SLE-SF: chlorophyll [ug/L]']
series_colors = ['#ff0000', '#00ee00', '#0000ff', '#ff00ff', '#00ffff']
bloom_level = 10
bloom_text = '10 \u00b5g/L minimum\nbloom criteria'

t0 = np.datetime64('2015-09-11T00:00')
t_end = np.datetime64('2015-09-23T00:00')


def to_time(hours):
    return t0 + np.round(np.asarray(hours) * 60).astype('timedelta64[m]')


fig = plt.figure(figsize=(15.34, 9.06), dpi=100)
# grey frame on top/left like the page screenshot
fig.patches.append(Rectangle((0, 0), 1, 1, transform=fig.transFigure, color='#dedede', zorder=-10))
fig.patches.append(Rectangle((9.5 / 1534, 0), 1, 1 - 6.5 / 906, transform=fig.transFigure,
                             facecolor='white', edgecolor='none', zorder=-9))
fig.lines.append(Line2D([8.8 / 1534, 8.8 / 1534], [0, 1 - 5.6 / 906], transform=fig.transFigure, color='#1f3c78', lw=1.4))
fig.lines.append(Line2D([8.8 / 1534, 1], [1 - 5.6 / 906, 1 - 5.6 / 906], transform=fig.transFigure, color='#1f3c78', lw=1.4))

ax = fig.add_axes([84 / 1534, 1 - 776 / 906, 1413 / 1534, 741 / 906])
ax.set_facecolor('white')

for data, col in zip([irl_jb, irl_sle, sle_me, sle_nf, sle_sf], series_colors):
    h, v = np.array(data).T
    ax.plot(to_time(h), v, color=col, lw=2.3, zorder=3)

ax.plot(to_time([1.2, 288]), [bloom_level, bloom_level], color='#ff0000', lw=4.2,
        dashes=(8.2, 3.3), zorder=6)

ax.text(0.489, 0.8115, bloom_text, transform=ax.transAxes, ha='center', va='center',
        color='#ff0000', fontsize=30, fontweight='bold', family='Liberation Sans',
        linespacing=1.41, zorder=7)

# gnuplot-style key: right aligned text, sample line on its right
key_y = [0.973, 0.939, 0.904, 0.870, 0.835]
for lab, col, yy in zip(series_labels, series_colors, key_y):
    ax.text(0.9229, yy, lab, transform=ax.transAxes, ha='right', va='center',
            fontsize=14.3, color='#222222', zorder=5)
    ax.plot([0.937, 0.982], [yy, yy], transform=ax.transAxes, color=col, lw=2.3, zorder=5)

ax.set_xlim(t0, t_end)
ax.set_ylim(0, 11)
ax.set_yticks(range(0, 12))
ax.xaxis.set_major_locator(mdates.DayLocator())
ax.xaxis.set_minor_locator(mdates.HourLocator(byhour=[6, 12, 18]))
ax.xaxis.set_major_formatter(mdates.DateFormatter('%H:%M\n%b.%d\n%Y'))

ax.tick_params(which='both', direction='in', top=True, right=True, colors='black',
               labelcolor='#222222', labelsize=14.3, width=1.1)
ax.tick_params(which='major', length=7.5)
ax.tick_params(which='minor', length=4.2)
ax.tick_params(axis='y', pad=15)
ax.tick_params(axis='x', pad=13)
for lbl in ax.get_xticklabels():
    lbl.set_linespacing(1.36)

for sp in ax.spines.values():
    sp.set_linewidth(1.5)
    sp.set_color('black')

ax.set_xlabel('date [EST]', fontsize=14.3, color='#222222', labelpad=12.5)
ax.set_ylabel('chlorophyll [ug/L]', fontsize=14.3, color='#222222', labelpad=-1.5)

fig.savefig('out.png', dpi=100)
